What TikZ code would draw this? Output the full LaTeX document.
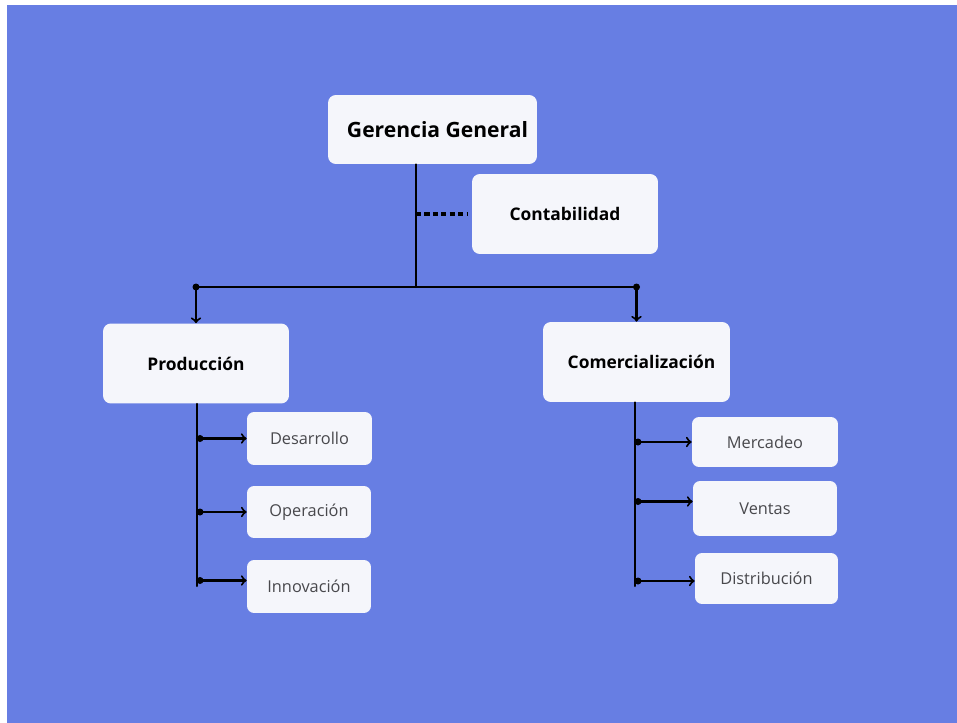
\documentclass[tikz,border=0pt]{standalone}
\usepackage{fontspec}
\setmainfont{Open Sans}
\usepackage{xcolor}
\usepackage{tikz}
\usetikzlibrary{arrows}

\definecolor{fondo}{RGB}{103,126,227}
\definecolor{caja}{RGB}{245,246,251}
\definecolor{texto}{RGB}{72,72,76}

\tikzset{
  jefe/.style={draw=none,fill=caja,rounded corners=4.5pt,font=\bfseries\fontsize{12}{14}\selectfont,text=black},
  area/.style={draw=none,fill=caja,rounded corners=4.5pt,font=\bfseries\fontsize{9.9}{12}\selectfont,text=black},
  tarea/.style={draw=none,fill=caja,rounded corners=4pt,font=\fontsize{9.3}{11}\selectfont,text=texto},
  enlace/.style={line width=1.15pt,black},
  punto/.style={fill=black,radius=0.07cm}
}

\begin{document}
\begin{tikzpicture}[line cap=round,line join=round,>=to,x=0.02cm,y=-0.02cm]
\useasboundingbox (0,0) rectangle (957,723);
\fill[fondo] (7,5) rectangle (957,723);
% cajas principales
\node[jefe,minimum width=4.18cm,minimum height=1.38cm] (gerencia) at (432.5,129.5) {\hspace{0.2cm}Gerencia General};
\node[area,minimum width=3.72cm,minimum height=1.60cm] (contab) at (565,214) {Contabilidad\hspace{0.1cm}};
\node[area,minimum width=3.72cm,minimum height=1.60cm] (produccion) at (196,363.5) {Producción\hspace{0.05cm}};
\node[area,minimum width=3.74cm,minimum height=1.60cm] (comercial) at (636.5,362) {\hspace{0.2cm}Comercialización};
% subareas
\node[tarea,minimum width=2.50cm,minimum height=1.06cm] (desarrollo) at (309.5,438.5) {Desarrollo};
\node[tarea,minimum width=2.48cm,minimum height=1.04cm] (operacion) at (309,512) {Operación};
\node[tarea,minimum width=2.48cm,minimum height=1.06cm] (innovacion) at (309,586.5) {Innovación};
\node[tarea,minimum width=2.92cm,minimum height=1.00cm] (mercadeo) at (765,442) {Mercadeo};
\node[tarea,minimum width=2.88cm,minimum height=1.10cm] (ventas) at (765,508.5) {Ventas};
\node[tarea,minimum width=2.86cm,minimum height=1.02cm] (distribucion) at (766.5,578.5) {Distribución};
% puntos de union
\coordinate (centro) at (416,287);
\coordinate (izq) at (196,287);
\coordinate (der) at (636.5,287);
\coordinate (pfin) at (197,586);
\coordinate (cfin) at (635,586);
% lineas
\draw[enlace] (centro |- gerencia.south) -- (centro);
\draw[black,line width=2.2pt,line cap=butt,dash pattern=on 2.9pt off 1.9pt] (centro |- contab.west) -- ([xshift=-0.1cm]contab.west);
\draw[enlace] (izq) -- (der);
\fill[punto] (izq) circle;
\fill[punto] (der) circle;
\draw[enlace,->] (izq) -- (produccion.north);
\draw[enlace,->] (der) -- (comercial.north);
\draw[enlace] (pfin |- produccion.south) -- (pfin);
\draw[enlace] (cfin |- comercial.south) -- (cfin);
\foreach \n/\d in {desarrollo/0,operacion/0,innovacion/0.12}{
  \fill[punto] ([xshift=0.06cm,yshift=\d cm]pfin |- \n.west) circle;
  \draw[enlace,->] ([yshift=\d cm]pfin |- \n.west) -- ([yshift=\d cm]\n.west);
}
\foreach \n/\d in {mercadeo/0,ventas/0.14,distribucion/-0.05}{
  \fill[punto] ([xshift=0.06cm,yshift=\d cm]cfin |- \n.west) circle;
  \draw[enlace,->] ([yshift=\d cm]cfin |- \n.west) -- ([yshift=\d cm]\n.west);
}
\end{tikzpicture}
\end{document}
